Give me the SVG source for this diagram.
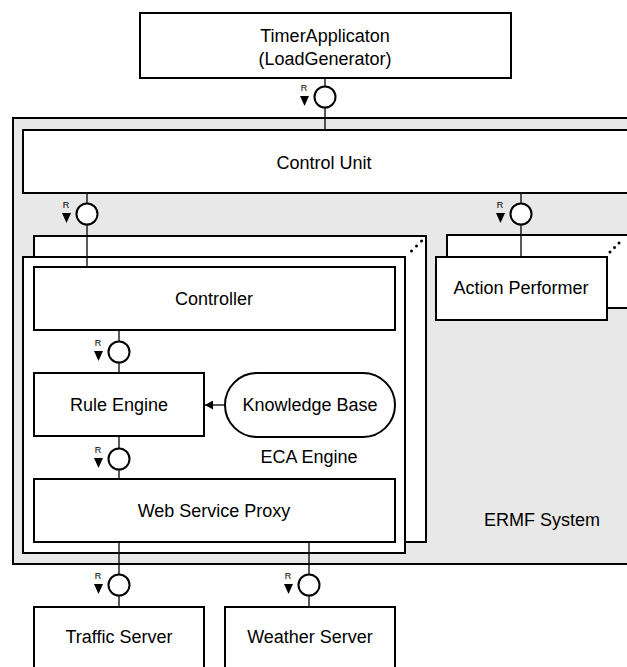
<svg xmlns="http://www.w3.org/2000/svg" width="627" height="667" viewBox="0 0 627 667">
<style>
.box{fill:#fff;stroke:#000;stroke-width:2}
.sys{fill:#e8e8e8;stroke:#000;stroke-width:2}
.t{font-family:"Liberation Sans",Arial,sans-serif;font-size:18px;fill:#000;text-anchor:middle}
.r{font-family:"Liberation Sans",Arial,sans-serif;font-size:9px;fill:#000;text-anchor:middle}
.ln{stroke:#000;stroke-width:1.3;fill:none}
.ifc{fill:#fff;stroke:#000;stroke-width:2}
.dot{fill:#000}
</style>
<defs>
<marker id="ah" markerWidth="9" markerHeight="9" refX="8" refY="4.5" orient="auto" markerUnits="userSpaceOnUse">
<path d="M0,0 L8,4.5 L0,9 Z" fill="#000"/>
</marker>
<g id="iface">
<circle cx="0" cy="0" r="10.5" class="ifc"/>
<text x="-21" y="-6" class="r">R</text>
<polygon points="-25,-1 -16,-1 -20.5,9" fill="#000"/>
</g>
</defs>

<g id="timer">
<rect class="box" x="140" y="13" width="371" height="65"/>
<text class="t" x="325" y="42">TimerApplicaton</text>
<text class="t" x="325" y="65">(LoadGenerator)</text>
</g>

<g id="ermf">
<rect class="sys" x="13" y="118" width="630" height="446"/>
<text class="t" x="542" y="526">ERMF System</text>
</g>

<g id="control-unit">
<rect class="box" x="23" y="130" width="620" height="63"/>
<text class="t" x="324" y="169">Control Unit</text>
</g>

<g id="eca-engine">
<rect class="box" x="34" y="236" width="392" height="306"/>
<circle class="dot" cx="411.5" cy="251" r="1.5"/>
<circle class="dot" cx="416.5" cy="246" r="1.5"/>
<circle class="dot" cx="421.5" cy="241" r="1.5"/>
<rect class="box" x="23" y="257" width="382" height="296"/>
<text class="t" x="309" y="463">ECA Engine</text>
</g>

<g id="controller">
<rect class="box" x="34" y="267" width="361" height="63"/>
<text class="t" x="214" y="305">Controller</text>
</g>

<g id="rule-engine">
<rect class="box" x="34" y="373" width="170" height="63"/>
<text class="t" x="119" y="411">Rule Engine</text>
</g>

<g id="knowledge-base">
<rect class="box" x="225" y="373" width="170" height="64" rx="32" ry="32"/>
<text class="t" x="310" y="411">Knowledge Base</text>
</g>

<g id="web-service-proxy">
<rect class="box" x="34" y="479" width="361" height="63"/>
<text class="t" x="214" y="517">Web Service Proxy</text>
</g>

<g id="action-performer">
<rect class="box" x="447" y="235" width="200" height="73"/>
<circle class="dot" cx="610" cy="252" r="1.5"/>
<circle class="dot" cx="614.5" cy="247.5" r="1.5"/>
<circle class="dot" cx="619" cy="243" r="1.5"/>
<rect class="box" x="436" y="257" width="171" height="63"/>
<text class="t" x="521" y="294">Action Performer</text>
</g>

<g id="traffic-server">
<rect class="box" x="34" y="607" width="170" height="80"/>
<text class="t" x="119" y="643">Traffic Server</text>
</g>

<g id="weather-server">
<rect class="box" x="225" y="607" width="170" height="80"/>
<text class="t" x="310" y="643">Weather Server</text>
</g>

<g id="connectors">
<line class="ln" x1="325" y1="78" x2="325" y2="130"/>
<use href="#iface" x="325" y="97"/>
<line class="ln" x1="87" y1="193" x2="87" y2="267"/>
<use href="#iface" x="87" y="214"/>
<line class="ln" x1="521" y1="193" x2="521" y2="257"/>
<use href="#iface" x="521" y="214"/>
<line class="ln" x1="119" y1="330" x2="119" y2="373"/>
<use href="#iface" x="119" y="352"/>
<line class="ln" x1="119" y1="436" x2="119" y2="479"/>
<use href="#iface" x="119" y="459"/>
<line class="ln" x1="119" y1="542" x2="119" y2="607"/>
<use href="#iface" x="119" y="585"/>
<line class="ln" x1="309" y1="542" x2="309" y2="607"/>
<use href="#iface" x="309" y="585"/>
<line class="ln" x1="225" y1="405" x2="205" y2="405" marker-end="url(#ah)"/>
</g>
</svg>
